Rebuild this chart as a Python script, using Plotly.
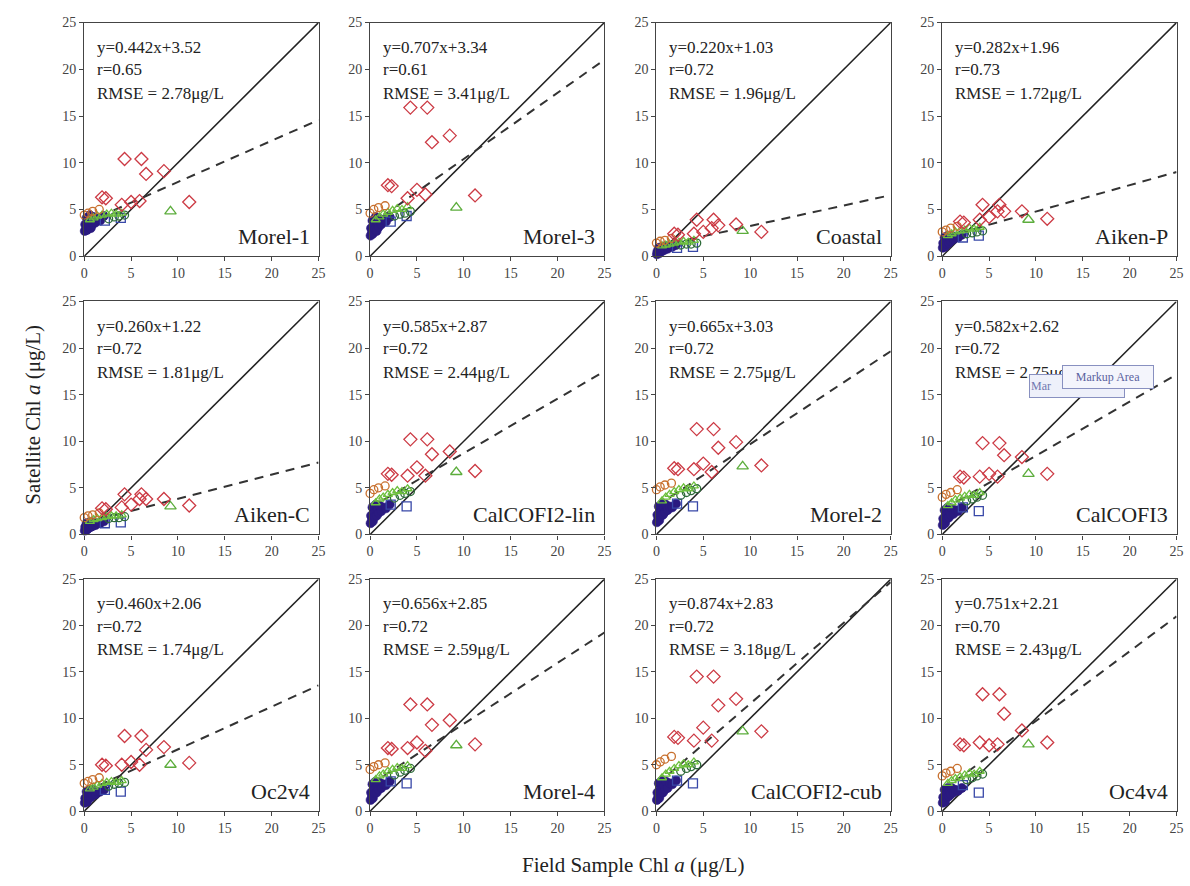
import plotly.graph_objects as go

# ---------------- data ----------------
panel_names = ["Morel-1", "Morel-3", "Coastal", "Aiken-P",
               "Aiken-C", "CalCOFI2-lin", "Morel-2", "CalCOFI3",
               "Oc2v4", "Morel-4", "CalCOFI2-cub", "Oc4v4"]
slopes = [0.442, 0.707, 0.220, 0.282, 0.260, 0.585, 0.665, 0.582, 0.460, 0.656, 0.874, 0.751]
intercepts = [3.52, 3.34, 1.03, 1.96, 1.22, 2.87, 3.03, 2.62, 2.06, 2.85, 2.83, 2.21]
r_text = ["0.65", "0.61", "0.72", "0.73", "0.72", "0.72", "0.72", "0.72", "0.72", "0.72", "0.72", "0.70"]
rmse_text = ["2.78", "3.41", "1.96", "1.72", "1.81", "2.44", "2.75", "2.75", "1.74", "2.59", "3.18", "2.43"]
tick_vals = [0, 5, 10, 15, 20, 25]
tick_text = ["0", "5", "10", "15", "20", "25"]

# field sample (x) values per group, shared by all panels
red_x = [1.9, 2.3, 4.0, 4.3, 5.0, 5.9, 6.1, 6.6, 8.5, 11.2]
tri_x = [9.2]
navy_x = [0.05, 0.1, 0.2, 0.25, 0.3, 0.4, 0.5, 0.6, 0.7, 0.8, 0.9, 1.0, 1.2, 1.4, 1.7, 2.1]
orange_x = [0.0, 0.4, 0.9, 1.6]
green_x = [0.6, 1.0, 1.4, 1.9, 2.4, 2.9, 3.4, 4.0]
dgreen_x = [2.6, 3.2, 3.7, 4.3]
square_x = [2.2, 3.9]

# satellite (y) values per panel
red_y = [
    [6.3, 6.2, 5.5, 10.4, 5.8, 5.9, 10.4, 8.8, 9.1, 5.8],
    [7.6, 7.5, 6.2, 15.9, 7.1, 6.6, 15.9, 12.2, 12.9, 6.5],
    [2.4, 2.3, 2.4, 3.9, 2.6, 3.0, 3.9, 3.3, 3.4, 2.6],
    [3.7, 3.6, 3.9, 5.5, 4.2, 4.8, 5.5, 4.8, 4.8, 4.0],
    [2.8, 2.7, 2.9, 4.3, 3.2, 3.8, 4.3, 3.8, 3.8, 3.1],
    [6.5, 6.4, 6.3, 10.2, 7.2, 6.3, 10.2, 8.6, 8.9, 6.8],
    [7.1, 7.0, 7.0, 11.3, 7.6, 6.7, 11.3, 9.3, 9.9, 7.4],
    [6.2, 6.1, 6.2, 9.8, 6.5, 6.2, 9.8, 8.5, 8.3, 6.5],
    [5.0, 4.9, 5.0, 8.1, 5.3, 5.0, 8.1, 6.6, 6.9, 5.2],
    [6.8, 6.7, 6.8, 11.5, 7.4, 6.5, 11.5, 9.3, 9.8, 7.2],
    [8.0, 7.9, 7.6, 14.5, 9.0, 7.6, 14.5, 11.4, 12.1, 8.6],
    [7.2, 7.1, 7.4, 12.6, 7.1, 7.2, 12.6, 10.5, 8.7, 7.4],
]
tri_y = [[4.8], [5.2], [2.7], [3.9], [3.0], [6.7], [7.3], [6.5], [5.0], [7.1], [8.6], [7.2]]
navy_y = [
    [2.7, 3.4, 3.0, 4.1, 2.8, 3.6, 3.2, 4.4, 3.0, 3.8, 3.4, 4.2, 3.6, 4.0, 3.8, 4.3],
    [2.2, 3.0, 2.6, 3.8, 2.4, 3.3, 2.9, 4.2, 2.7, 3.6, 3.1, 4.0, 3.4, 3.9, 3.7, 4.2],
    [0.2, 0.5, 0.4, 0.9, 0.3, 0.7, 0.5, 1.0, 0.6, 0.9, 0.7, 1.1, 0.8, 1.0, 1.0, 1.2],
    [0.9, 1.4, 1.2, 2.0, 1.0, 1.6, 1.3, 2.2, 1.4, 1.9, 1.6, 2.2, 1.8, 2.1, 2.0, 2.3],
    [0.4, 0.8, 0.6, 1.2, 0.5, 0.9, 0.7, 1.3, 0.8, 1.1, 0.9, 1.3, 1.0, 1.2, 1.2, 1.4],
    [1.2, 2.0, 1.6, 2.9, 1.4, 2.3, 1.9, 3.2, 2.0, 2.7, 2.3, 3.1, 2.5, 2.9, 2.8, 3.2],
    [1.3, 2.1, 1.7, 3.0, 1.5, 2.4, 2.0, 3.3, 2.1, 2.8, 2.4, 3.2, 2.6, 3.0, 2.9, 3.3],
    [1.0, 1.7, 1.4, 2.6, 1.2, 2.0, 1.7, 2.9, 1.8, 2.4, 2.1, 2.8, 2.2, 2.6, 2.5, 2.9],
    [0.9, 1.4, 1.2, 2.1, 1.0, 1.6, 1.4, 2.3, 1.5, 1.9, 1.7, 2.3, 1.8, 2.1, 2.1, 2.3],
    [1.2, 2.0, 1.6, 2.9, 1.4, 2.3, 1.9, 3.2, 2.0, 2.7, 2.3, 3.1, 2.5, 2.9, 2.8, 3.2],
    [1.2, 2.0, 1.6, 3.0, 1.4, 2.3, 1.9, 3.3, 2.0, 2.7, 2.3, 3.2, 2.5, 3.0, 2.9, 3.3],
    [0.9, 1.5, 1.2, 2.3, 1.0, 1.8, 1.5, 2.5, 1.6, 2.1, 1.8, 2.5, 2.0, 2.3, 2.2, 2.5],
]
orange_y = [
    [4.4, 4.6, 4.8, 5.0], [4.6, 5.0, 5.2, 5.4], [1.4, 1.6, 1.7, 1.9], [2.6, 2.8, 3.0, 3.2],
    [1.8, 2.0, 2.1, 2.3], [4.4, 4.8, 5.0, 5.2], [4.8, 5.1, 5.3, 5.5], [4.0, 4.3, 4.5, 4.8],
    [3.0, 3.2, 3.4, 3.6], [4.5, 4.8, 5.0, 5.2], [5.0, 5.3, 5.6, 5.9], [3.8, 4.1, 4.3, 4.6],
]
green_y = [
    [3.9, 4.1, 4.3, 4.4, 4.5, 4.6, 4.5, 4.6],
    [3.9, 4.2, 4.5, 4.7, 4.9, 5.1, 5.0, 5.3],
    [1.1, 1.2, 1.3, 1.4, 1.5, 1.6, 1.5, 1.7],
    [2.2, 2.4, 2.6, 2.7, 2.8, 3.0, 2.9, 3.1],
    [1.4, 1.6, 1.7, 1.8, 1.9, 2.0, 2.0, 2.1],
    [3.4, 3.8, 4.0, 4.3, 4.5, 4.7, 4.6, 4.9],
    [3.6, 4.0, 4.3, 4.6, 4.8, 5.0, 4.9, 5.2],
    [3.1, 3.4, 3.7, 3.9, 4.1, 4.3, 4.2, 4.5],
    [2.4, 2.6, 2.8, 3.0, 3.1, 3.2, 3.1, 3.3],
    [3.4, 3.8, 4.0, 4.3, 4.5, 4.7, 4.6, 4.9],
    [3.6, 4.0, 4.3, 4.6, 4.9, 5.1, 5.0, 5.3],
    [3.0, 3.3, 3.5, 3.7, 3.9, 4.1, 4.0, 4.3],
]
dgreen_y = [
    [4.0, 4.2, 4.3, 4.4], [4.3, 4.5, 4.6, 4.8], [1.2, 1.3, 1.3, 1.4], [2.4, 2.5, 2.6, 2.7],
    [1.7, 1.8, 1.8, 1.9], [3.9, 4.2, 4.4, 4.6], [4.2, 4.5, 4.7, 4.9], [3.6, 3.8, 4.0, 4.2],
    [2.7, 2.9, 3.0, 3.1], [3.9, 4.2, 4.4, 4.6], [4.3, 4.6, 4.8, 5.0], [3.4, 3.6, 3.8, 4.0],
]
square_y = [
    [3.8, 4.1], [3.7, 4.3], [0.9, 1.0], [2.0, 2.2], [1.2, 1.3], [3.2, 3.0],
    [3.3, 3.0], [2.9, 2.5], [2.3, 2.1], [3.2, 3.0], [3.3, 3.0], [2.8, 2.0],
]
line_x = [0, 25]

# ---------------- layout geometry (pixels) ----------------
W, H = 1190, 886
col_left = [81, 369.5, 658.5, 947]
row_top = [15.8, 299.5, 582]
row_bot = [253.5, 536.5, 818]
pw = 236.5

FONT = "Liberation Serif"
fig = go.Figure()
layout = dict(width=W, height=H, margin=dict(l=0, r=0, t=0, b=0),
              paper_bgcolor="white", plot_bgcolor="white", showlegend=False,
              font=dict(family=FONT, color="#222"))
annotations = []

for i in range(12):
    r, c = divmod(i, 4)
    ax = "" if i == 0 else str(i + 1)
    xa, ya = "x" + ax, "y" + ax
    axis_common = dict(range=[0, 25], tickvals=tick_vals, ticktext=tick_text,
                       ticks="outside", ticklen=4, tickwidth=1, tickcolor="#444",
                       showline=True, linecolor="#444", linewidth=1.2, mirror=True,
                       showgrid=False, zeroline=False,
                       tickfont=dict(family=FONT, size=14, color="#444"))
    layout["xaxis" + ax] = dict(axis_common, anchor=ya,
                                domain=[col_left[c] / W, (col_left[c] + pw) / W])
    layout["yaxis" + ax] = dict(axis_common, anchor=xa,
                                domain=[1 - row_bot[r] / H, 1 - row_top[r] / H])

    # 1:1 line
    fig.add_trace(go.Scatter(x=line_x, y=line_x, mode="lines", xaxis=xa, yaxis=ya,
                             line=dict(color="#222", width=1.5)))
    # regression line
    fig.add_trace(go.Scatter(x=line_x, y=[intercepts[i] + slopes[i] * v for v in line_x],
                             mode="lines", xaxis=xa, yaxis=ya,
                             line=dict(color="#333", width=2, dash="9px,7px")))
    groups = [
        (navy_x, navy_y[i], "circle", "#2a1a80", True, 9),
        (square_x, square_y[i], "square-open", "#3848a8", False, 9),
        (dgreen_x, dgreen_y[i], "circle-open", "#2e6b3a", False, 8),
        (green_x, green_y[i], "triangle-up-open", "#6cbf3c", False, 8),
        (orange_x, orange_y[i], "circle-open", "#c8702e", False, 8),
        (tri_x, tri_y[i], "triangle-up-open", "#5cad3c", False, 10),
        (red_x, red_y[i], "diamond-open", "#cc3a44", False, 10),
    ]
    for gx, gy, sym, col, filled, sz in groups:
        fig.add_trace(go.Scatter(x=gx, y=gy, mode="markers", xaxis=xa, yaxis=ya,
                                 cliponaxis=False,
                                 marker=dict(symbol=sym, size=sz, color=col,
                                             line=dict(color=col, width=1.3 if not filled else 0.6))))

    # statistics text
    lines = ["y=%.3fx+%.2f" % (slopes[i], intercepts[i]),
             "r=" + r_text[i],
             "RMSE = " + rmse_text[i] + "μg/L"]
    offs = [25, 48, 72]
    for t, o in zip(lines, offs):
        annotations.append(dict(text=t, xref=xa + " domain", yref=ya + " domain",
                                x=11 / pw, y=1 - o / 237, xanchor="left", yanchor="middle",
                                showarrow=False, font=dict(family=FONT, size=17, color="#222")))
    annotations.append(dict(text=panel_names[i], xref=xa + " domain", yref=ya + " domain",
                            x=1 - 7 / pw, y=20 / 237, xanchor="right", yanchor="middle",
                            showarrow=False, font=dict(family=FONT, size=22, color="#222")))

# "Markup Area" artefact boxes on CalCOFI3 panel
annotations.append(dict(text="Mar", xref="paper", yref="paper",
                        x=1035 / W, y=1 - 386 / H, xanchor="left", yanchor="middle",
                        showarrow=False, bgcolor="#eef0fa", bordercolor="#8890c0", borderwidth=1,
                        width=92, height=20, align="left",
                        font=dict(family=FONT, size=12, color="#7078b0")))
annotations.append(dict(text="Markup Area", xref="paper", yref="paper",
                        x=1068 / W, y=1 - 376 / H, xanchor="left", yanchor="middle",
                        showarrow=False, bgcolor="#f4f5fc", bordercolor="#8890c0", borderwidth=1,
                        width=88, height=20,
                        font=dict(family=FONT, size=12, color="#5a62a0")))

# axis titles
annotations.append(dict(text="Field Sample Chl <i>a</i> (μg/L)", xref="paper", yref="paper",
                        x=635 / W, y=1 - 873 / H, xanchor="center", yanchor="middle",
                        showarrow=False, font=dict(family=FONT, size=21, color="#222")))
annotations.append(dict(text="Satellite Chl <i>a</i> (μg/L)", xref="paper", yref="paper",
                        x=29 / W, y=1 - 415 / H, xanchor="center", yanchor="middle",
                        textangle=-90, showarrow=False,
                        font=dict(family=FONT, size=21, color="#222")))

layout["annotations"] = annotations
fig.update_layout(**layout)
fig.write_html("out.html")
